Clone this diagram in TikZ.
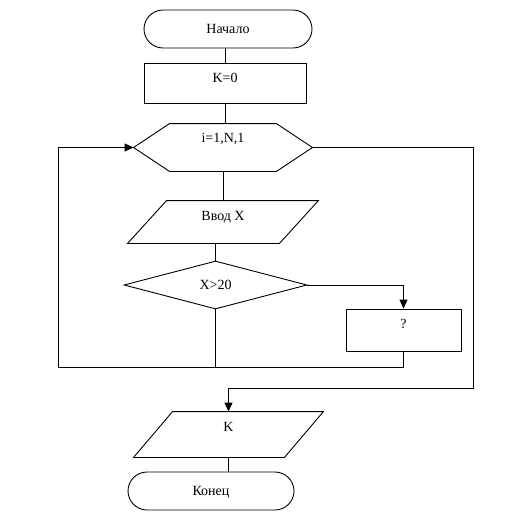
\documentclass[tikz,border=0pt]{standalone}
\usepackage{fontspec}
\setmainfont{Liberation Serif}
\usetikzlibrary{shapes.geometric, arrows.meta}

\begin{document}
\begin{tikzpicture}[
  x=1pt, y=-1pt, line width=0.9pt,
  font=\fontsize{14}{16}\selectfont,
  every node/.style={text height=9.5pt, text depth=0pt, inner sep=0pt},
  lift/.style={text depth=#1},
  term/.style={rectangle, draw, rounded corners=19pt, minimum width=168pt, minimum height=38pt},
  proc/.style={rectangle, draw, minimum width=#1, minimum height=40pt},
  io/.style={rectangle, minimum width=#1, minimum height=42pt},
  cond/.style={diamond, draw, minimum width=183pt, minimum height=48pt, aspect=3.8},
  arrow/.style={-{Triangle[length=9pt,width=8pt]}}
]
  \path[use as bounding box, fill=white] (0,0) rectangle (509,516);

  \node[term] (start) at (228,29) {Начало};
  \node[proc=162pt, lift=11pt] (init) at (225,83.5) {K=0};
  \node[minimum width=178pt, minimum height=47pt, lift=19pt] (loop) at (223,147.5) {i=1,N,1};
  \node[io=190pt, lift=12pt] (input) at (223,222) {Ввод X};
  \node[cond] (check) at (215.5,285) {X>20};
  \node[proc=115pt, minimum height=42pt, lift=12pt] (mark) at (403.5,330) {?};
  \node[io=189pt, minimum height=45pt, lift=15pt] (output) at (228.5,434.5) {K};
  \node[term, minimum width=166pt] (finish) at (211,491) {Конец};

  \coordinate (back) at (58,367);
  \coordinate (exit) at (473,388);

  % hexagon of the loop
  \draw ([xshift=36pt]loop.north west) -- ([xshift=-36pt]loop.north east) -- (loop.east)
    -- ([xshift=-36pt]loop.south east) -- ([xshift=36pt]loop.south west) -- (loop.west) -- cycle;
  % parallelograms for input and output
  \draw ([xshift=39pt]input.north west) -- (input.north east) -- ([xshift=-39pt]input.south east) -- (input.south west) -- cycle;
  \draw ([xshift=39pt]output.north west) -- (output.north east) -- ([xshift=-39pt]output.south east) -- (output.south west) -- cycle;

  \draw (init.north |- start.south) -- (init.north);
  \draw (init.south) -- (init.south |- loop.north);
  \draw (loop.south) -- (loop.south |- input.north);
  \draw (check.north |- input.south) -- (check.north);
  \draw[arrow] (check.east) -| (mark.north);
  \draw (check.south) -- (check.south |- back);
  \draw[arrow] (mark.south) |- (back) |- (loop.west);
  \draw[arrow] (loop.east) -| (exit) -| (output.north);
  \draw (output.south) -- (output.south |- finish.north);
\end{tikzpicture}
\end{document}
